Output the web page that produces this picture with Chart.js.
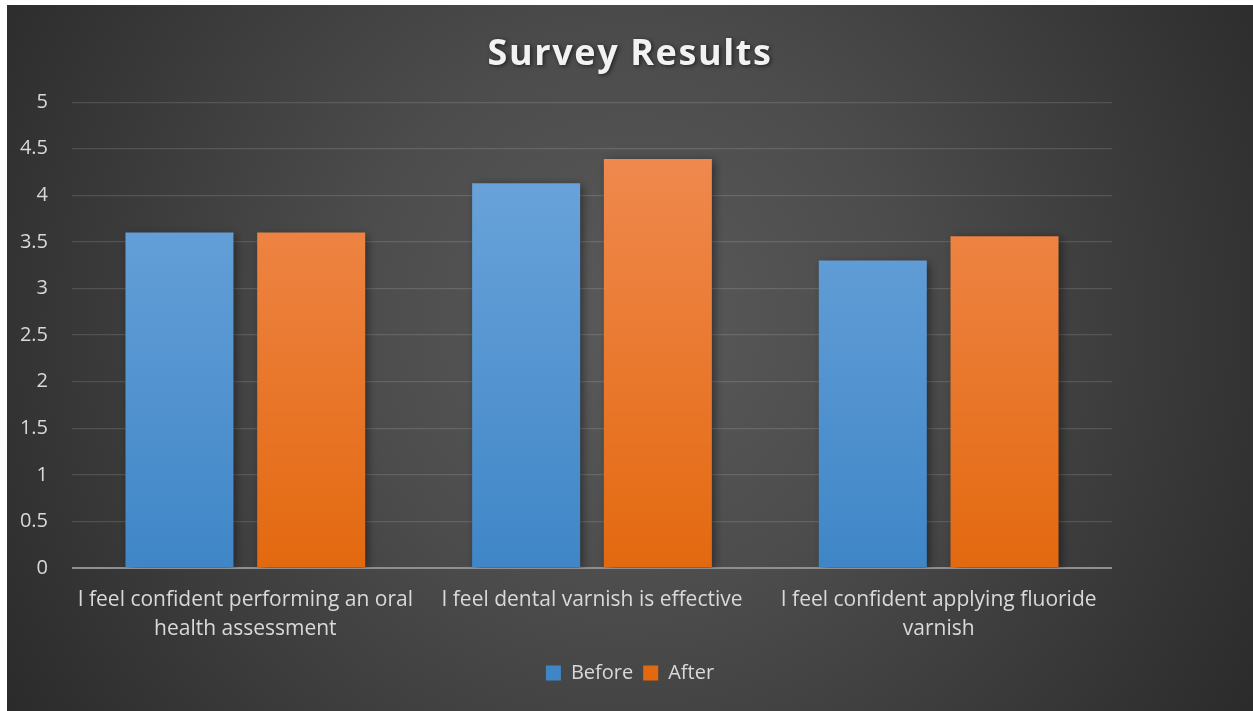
<!DOCTYPE html>
<html>
<head>
<meta charset="utf-8">
<script src="https://cdn.jsdelivr.net/npm/chart.js@4"></script>
<style>
  html, body { margin: 0; padding: 0; background: #ffffff; }
  #wrap { position: absolute; left: 7px; top: 5px; width: 1246px; height: 706px; }
</style>
</head>
<body>
<div id="wrap"><canvas id="surveyChart"></canvas></div>
<script>
// Survey data
const categories = [
    ['I feel confident performing an oral', 'health assessment'],
    ['I feel dental varnish is effective'],
    ['I feel confident applying fluoride', 'varnish']
];
const beforeValues = [3.6, 4.13, 3.3];
const afterValues = [3.6, 4.39, 3.56];
const yTicks = [0, 0.5, 1, 1.5, 2, 2.5, 3, 3.5, 4, 4.5, 5];

const FONT = "'Open Sans', sans-serif";

function barGradient(top, bottom) {
    return function (ctx) {
        const area = ctx.chart.chartArea;
        if (!area) return top;
        const g = ctx.chart.ctx.createLinearGradient(0, area.top, 0, area.bottom);
        g.addColorStop(0, top);
        g.addColorStop(1, bottom);
        return g;
    };
}

// dark radial background
const backgroundPlugin = {
    id: 'bg',
    beforeDraw(chart) {
        const c = chart.ctx;
        const w = chart.width, h = chart.height;
        const g = c.createRadialGradient(w * 0.5, h * 0.45, 0, w * 0.5, h * 0.45, w * 0.64);
        g.addColorStop(0, '#5a5a5a');
        g.addColorStop(0.35, '#4c4c4c');
        g.addColorStop(1, '#262626');
        c.save();
        c.fillStyle = g;
        c.fillRect(0, 0, w, h);
        c.restore();
    }
};

// soft shadow behind the bars
const shadowPlugin = {
    id: 'barShadow',
    beforeDatasetsDraw(chart) {
        const c = chart.ctx;
        c.save();
        c.shadowColor = 'rgba(0,0,0,0.45)';
        c.shadowBlur = 9;
        c.shadowOffsetX = 3;
        c.shadowOffsetY = 2;
    },
    afterDatasetsDraw(chart) {
        chart.ctx.restore();
    }
};

// spaced, shadowed title text
const titleStylePlugin = {
    id: 'titleStyle',
    afterLayout(chart) {
        const tb = chart.titleBlock;
        if (!tb || tb._styled) return;
        const orig = tb.draw.bind(tb);
        tb.draw = function (area) {
            const c = chart.ctx;
            c.save();
            c.letterSpacing = '1.6px';
            c.shadowColor = 'rgba(0,0,0,0.6)';
            c.shadowBlur = 4;
            c.shadowOffsetX = 1.5;
            c.shadowOffsetY = 1.5;
            orig(area);
            c.restore();
        };
        tb._styled = true;
    }
};

const ctx = document.getElementById('surveyChart').getContext('2d');
new Chart(ctx, {
    type: 'bar',
    data: {
        labels: categories,
        datasets: [{
            label: 'Before',
            data: beforeValues,
            backgroundColor: barGradient('#71a8dd', '#3f86c7'),
            categoryPercentage: 0.76,
            barPercentage: 0.82
        }, {
            label: 'After',
            data: afterValues,
            backgroundColor: barGradient('#f18d57', '#e3690f'),
            categoryPercentage: 0.76,
            barPercentage: 0.82
        }]
    },
    options: {
        responsive: true,
        maintainAspectRatio: false,
        animation: false,
        layout: { padding: { left: 0, right: 0, top: 0, bottom: 18 } },
        plugins: {
            title: {
                display: true,
                text: 'Survey Results',
                color: '#f2f2f2',
                font: { family: FONT, size: 36, weight: 'bold' },
                padding: { top: 28, bottom: 26 }
            },
            legend: {
                position: 'bottom',
                labels: {
                    color: '#d9d9d9',
                    font: { family: FONT, size: 20 },
                    boxWidth: 15,
                    boxHeight: 15,
                    padding: 10
                }
            },
            tooltip: { enabled: false }
        },
        scales: {
            x: {
                grid: { display: false, drawTicks: false },
                border: { display: false },
                ticks: {
                    color: '#d9d9d9',
                    font: { family: FONT, size: 21, lineHeight: 1.38 },
                    maxRotation: 0,
                    autoSkip: false,
                    padding: 18
                },
                afterFit(scale) { scale.height = 85; }
            },
            y: {
                min: 0,
                max: 5,
                afterBuildTicks(scale) { scale.ticks = yTicks.map(v => ({ value: v })); },
                grid: {
                    drawTicks: false,
                    color: c => c.tick && c.tick.value === 0 ? '#8f8f8f' : 'rgba(255,255,255,0.13)',
                    lineWidth: c => c.tick && c.tick.value === 0 ? 2 : 1.3
                },
                border: { display: false },
                ticks: {
                    color: '#d9d9d9',
                    font: { family: FONT, size: 20 },
                    padding: 24,
                    callback: v => String(v)
                },
                afterFit(scale) { scale.width = 65; }
            },
            // empty right axis that only reserves the space to the right of the plot
            yRight: {
                position: 'right',
                min: 0,
                max: 5,
                grid: { display: false, drawTicks: false },
                border: { display: false },
                ticks: { display: false },
                afterFit(scale) { scale.width = 141; }
            }
        }
    },
    plugins: [backgroundPlugin, shadowPlugin, titleStylePlugin]
});
</script>
</body>
</html>
